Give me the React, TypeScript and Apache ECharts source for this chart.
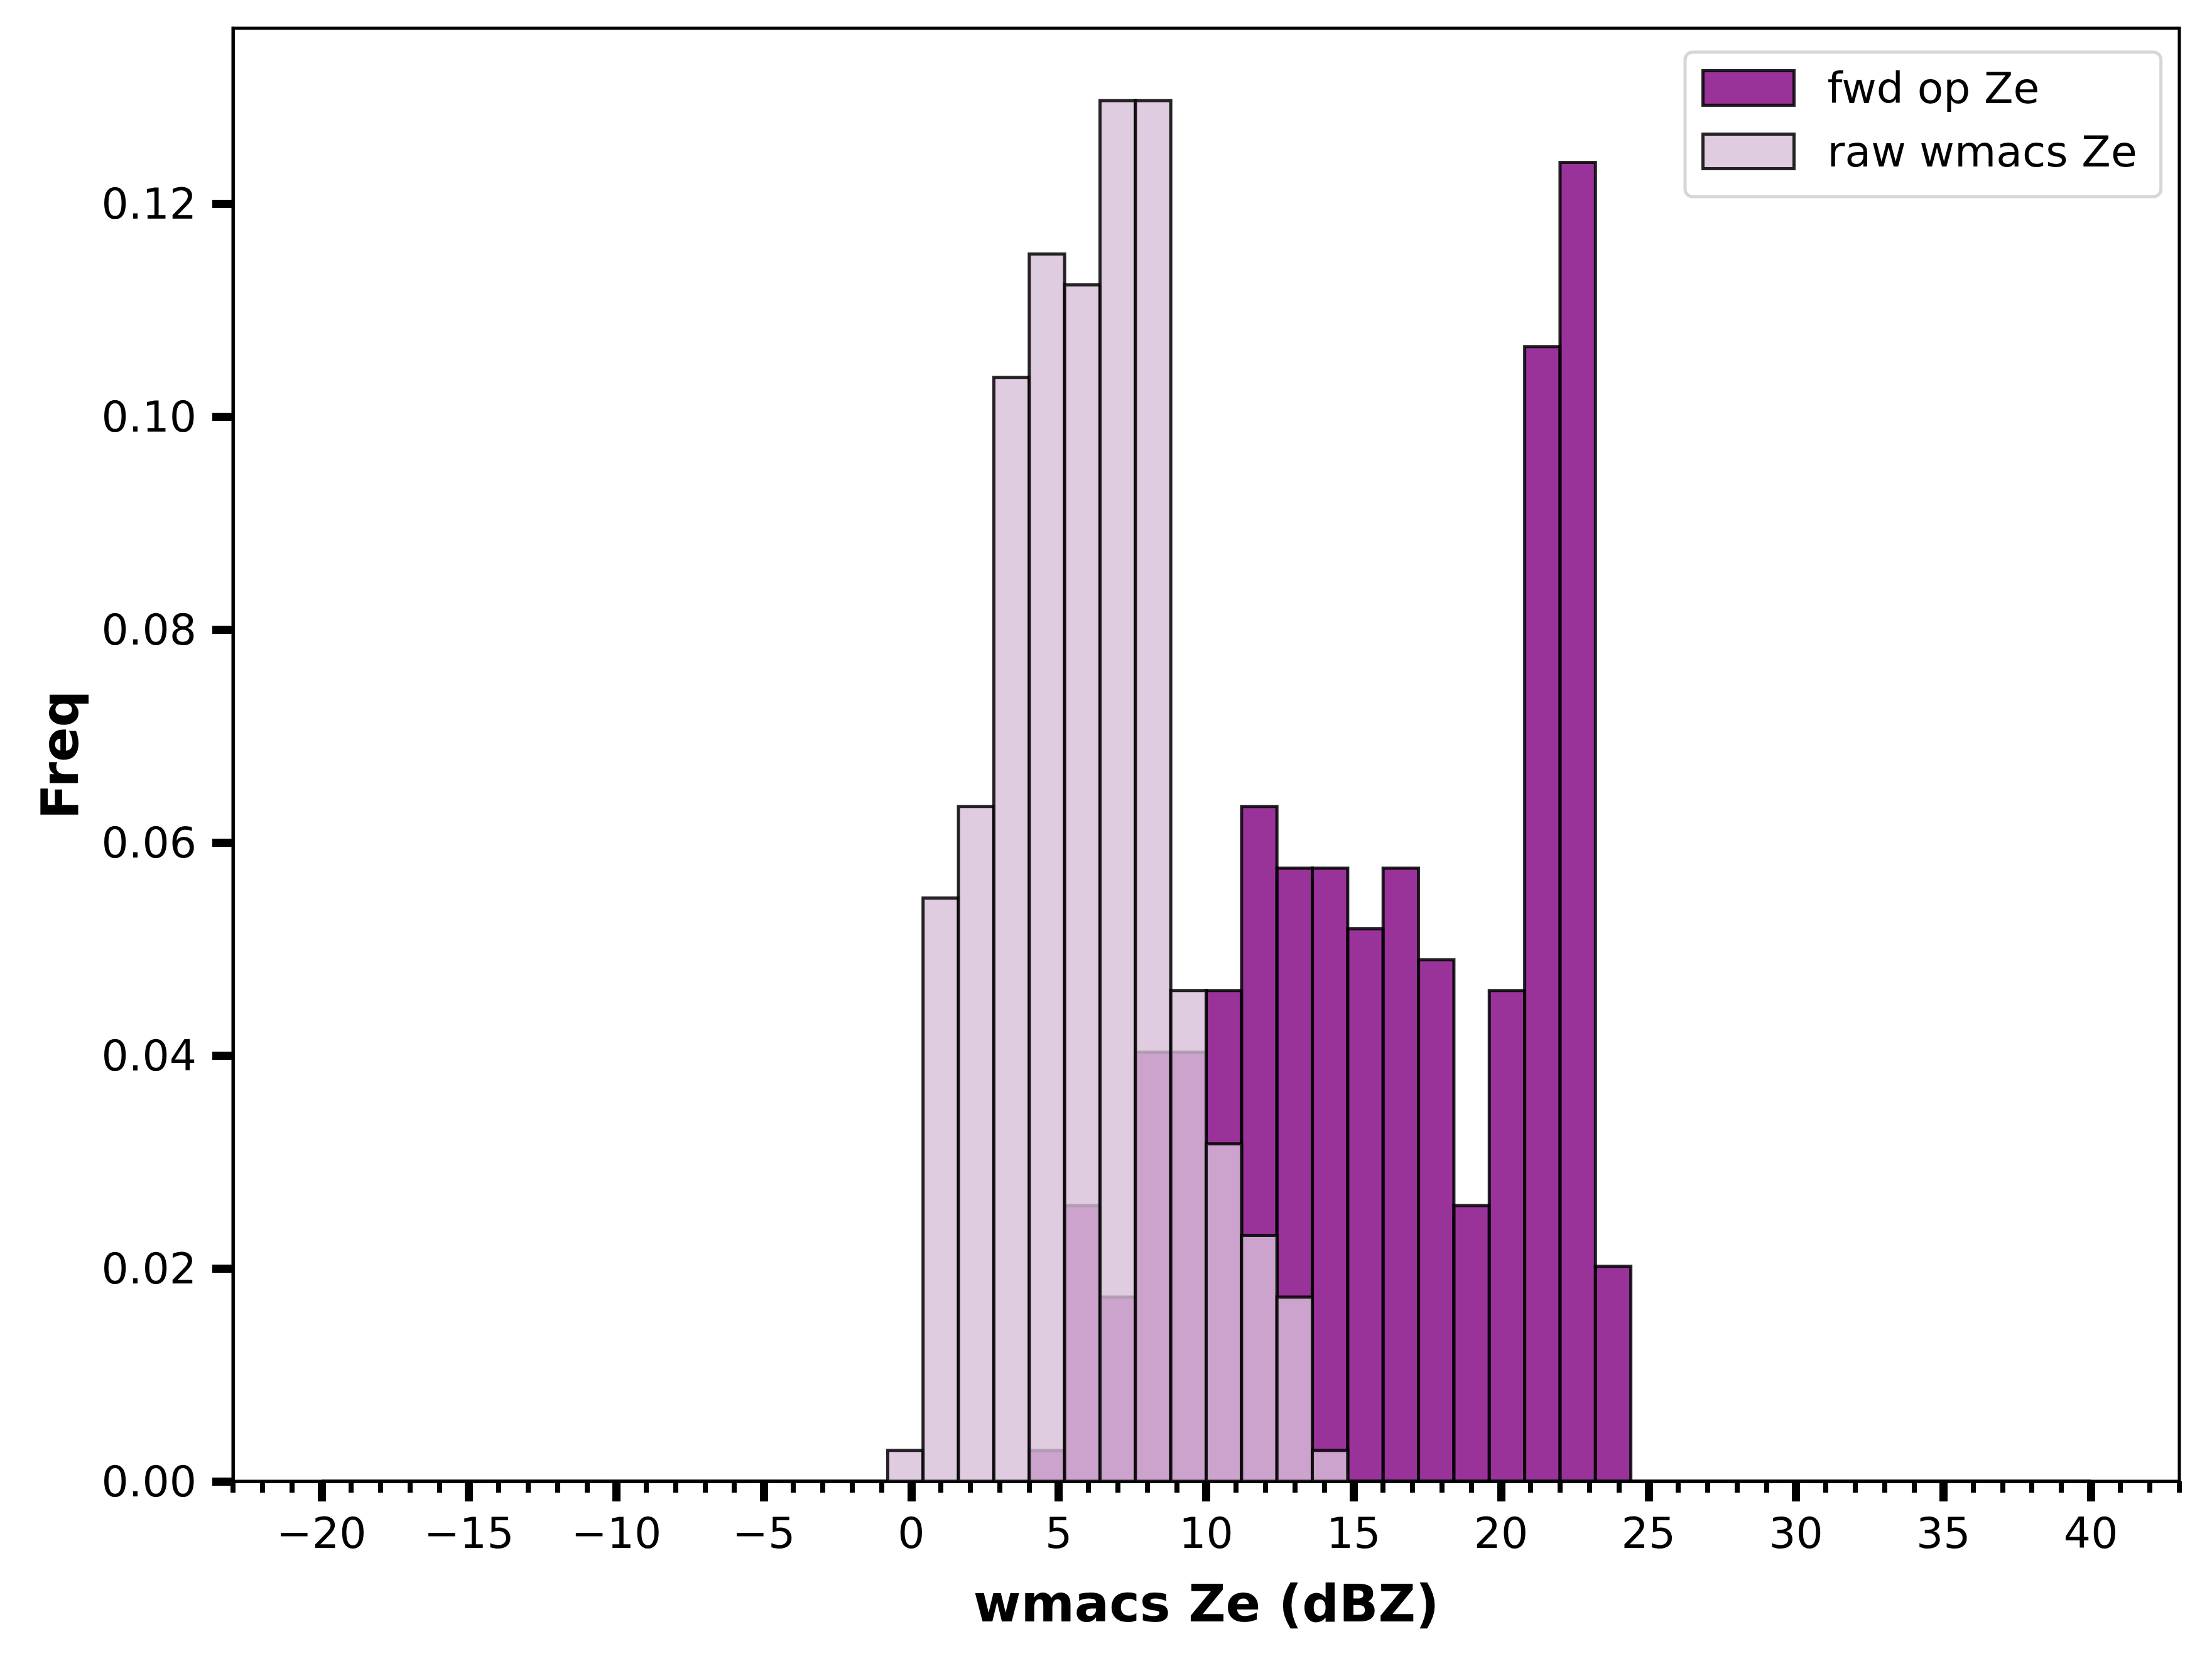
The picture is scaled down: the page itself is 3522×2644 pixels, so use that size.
import React, { useEffect, useRef } from "react";
import * as echarts from "echarts";

// Histogram bin edges (dBZ) — 50 bins from -20 to 40
const binEdges = [
  -20, -18.8, -17.6, -16.4, -15.2, -14, -12.8, -11.6, -10.4, -9.2,
  -8, -6.8, -5.6, -4.4, -3.2, -2, -0.8, 0.4, 1.6, 2.8,
  4, 5.2, 6.4, 7.6, 8.8, 10, 11.2, 12.4, 13.6, 14.8,
  16, 17.2, 18.4, 19.6, 20.8, 22, 23.2, 24.4, 25.6, 26.8,
  28, 29.2, 30.4, 31.6, 32.8, 34, 35.2, 36.4, 37.6, 38.8, 40,
];

// fwd op Ze frequencies per bin
const fwdFreq = [
  0, 0, 0, 0, 0, 0, 0, 0, 0, 0,
  0, 0, 0, 0, 0, 0, 0, 0, 0, 0,
  0.0029, 0.0259, 0.0173, 0.0403, 0.0403, 0.0461, 0.0634, 0.0576, 0.0576, 0.0519,
  0.0576, 0.049, 0.0259, 0.0461, 0.1066, 0.1239, 0.0202, 0, 0, 0,
  0, 0, 0, 0, 0, 0, 0, 0, 0, 0,
];

// raw wmacs Ze frequencies per bin
const rawFreq = [
  0, 0, 0, 0, 0, 0, 0, 0, 0, 0,
  0, 0, 0, 0, 0, 0, 0.0029, 0.0548, 0.0634, 0.1037,
  0.1153, 0.1124, 0.1297, 0.1297, 0.0461, 0.0317, 0.0231, 0.0173, 0.0029, 0,
  0, 0, 0, 0, 0, 0, 0, 0, 0, 0,
  0, 0, 0, 0, 0, 0, 0, 0, 0, 0,
];

const seriesNames = ["fwd op Ze", "raw wmacs Ze"];
const xMajorTicks = [-20, -15, -10, -5, 0, 5, 10, 15, 20, 25, 30, 35, 40];
const yTicks = [0, 0.02, 0.04, 0.06, 0.08, 0.1, 0.12];
const xMin = -23;
const xMax = 43;
const yMax = 0.1365;
const xTitle = "wmacs Ze (dBZ)";
const yTitle = "Freq";

const W = 3522;
const H = 2644;
const FONT = "DejaVu Sans";
const EDGE = "rgba(0,0,0,0.85)";
const FWD_FILL = "rgba(128,0,128,0.8)";
const RAW_FILL = "rgba(216,191,216,0.8)";

const GRID = { left: 371, top: 45, width: 3099, height: 2313 };

export default function App() {
  const ref = useRef<HTMLDivElement>(null);
  useEffect(() => {
    document.body.style.margin = "0";
    const chart = echarts.init(ref.current as HTMLDivElement, null, { renderer: "svg" });

    const minorTicks: number[] = [];
    for (let v = xMin; v <= xMax; v++) minorTicks.push(v);

    const mkData = (vals: number[]) => vals.map((v, i) => [binEdges[i], binEdges[i + 1], v]);
    const renderItem = (fill: string) => (params: any, api: any) => {
      const x0 = api.value(0);
      const x1 = api.value(1);
      const v = api.value(2);
      const p0 = api.coord([x0, 0]);
      const p1 = api.coord([x1, v]);
      return {
        type: "rect",
        shape: { x: p0[0], y: p1[1], width: p1[0] - p0[0], height: p0[1] - p1[1] },
        style: { fill, stroke: EDGE, lineWidth: 5 },
      };
    };

    const option: any = {
      animation: false,
      backgroundColor: "#fff",
      grid: {
        ...GRID,
        show: true,
        borderColor: "#000",
        borderWidth: 5,
        backgroundColor: "transparent",
      },
      xAxis: [
        {
          type: "value",
          min: xMin,
          max: xMax,
          position: "bottom",
          splitLine: { show: false },
          axisLine: { show: true, onZero: false, lineStyle: { color: "#000", width: 5 } },
          axisTick: {
            show: true,
            customValues: xMajorTicks,
            length: 32,
            lineStyle: { color: "#000", width: 13 },
          },
          axisLabel: {
            show: true,
            customValues: xMajorTicks,
            margin: 48,
            fontSize: 68,
            fontFamily: FONT,
            color: "#000",
            formatter: (v: number) => (v < 0 ? "\u2212" + Math.abs(v) : String(v)),
          },
        },
        {
          type: "value",
          min: xMin,
          max: xMax,
          position: "bottom",
          splitLine: { show: false },
          axisLine: { show: false, onZero: false },
          axisTick: {
            show: true,
            customValues: minorTicks,
            length: 18,
            lineStyle: { color: "#000", width: 8 },
          },
          axisLabel: { show: false },
        },
      ],
      yAxis: {
        type: "value",
        min: 0,
        max: yMax,
        position: "left",
        splitLine: { show: false },
        axisLine: { show: true, onZero: false, lineStyle: { color: "#000", width: 5 } },
        axisTick: {
          show: true,
          customValues: yTicks,
          length: 33,
          lineStyle: { color: "#000", width: 13 },
        },
        axisLabel: {
          show: true,
          customValues: yTicks,
          margin: 58,
          fontSize: 68,
          fontFamily: FONT,
          color: "#000",
          formatter: (v: number) => v.toFixed(2),
        },
      },
      legend: {
        show: true,
        left: 2683,
        top: 83,
        orient: "vertical",
        padding: [23, 38, 38, 26],
        itemWidth: 145,
        itemHeight: 55,
        itemGap: 33,
        backgroundColor: "rgba(255,255,255,0.8)",
        borderColor: "#d6d6d6",
        borderWidth: 5,
        borderRadius: 12,
        icon: "rect",
        textStyle: {
          fontSize: 68,
          lineHeight: 55,
          fontFamily: FONT,
          color: "#000",
          padding: [0, 0, 0, 48],
        },
        data: [
          { name: seriesNames[0], itemStyle: { color: FWD_FILL, borderColor: EDGE, borderWidth: 5 } },
          { name: seriesNames[1], itemStyle: { color: RAW_FILL, borderColor: EDGE, borderWidth: 5 } },
        ],
      },
      graphic: [
        {
          type: "text",
          x: GRID.left + GRID.width / 2,
          y: 2552,
          style: {
            text: xTitle,
            fontSize: 82,
            fontWeight: "bold",
            fontFamily: FONT,
            fill: "#000",
            align: "center",
            verticalAlign: "middle",
          },
        },
        {
          type: "text",
          x: 95,
          y: GRID.top + GRID.height / 2,
          rotation: Math.PI / 2,
          style: {
            text: yTitle,
            fontSize: 82,
            fontWeight: "bold",
            fontFamily: FONT,
            fill: "#000",
            align: "center",
            verticalAlign: "middle",
          },
        },
      ],
      series: [
        {
          name: seriesNames[0],
          type: "custom",
          xAxisIndex: 0,
          yAxisIndex: 0,
          itemStyle: { color: FWD_FILL, borderColor: EDGE },
          renderItem: renderItem(FWD_FILL),
          encode: { x: [0, 1], y: 2 },
          data: mkData(fwdFreq),
        },
        {
          name: seriesNames[1],
          type: "custom",
          xAxisIndex: 0,
          yAxisIndex: 0,
          itemStyle: { color: RAW_FILL, borderColor: EDGE },
          renderItem: renderItem(RAW_FILL),
          encode: { x: [0, 1], y: 2 },
          data: mkData(rawFreq),
        },
      ],
    };

    chart.setOption(option);
    return () => chart.dispose();
  }, []);
  return <div ref={ref} style={{ width: W, height: H }} />;
}
